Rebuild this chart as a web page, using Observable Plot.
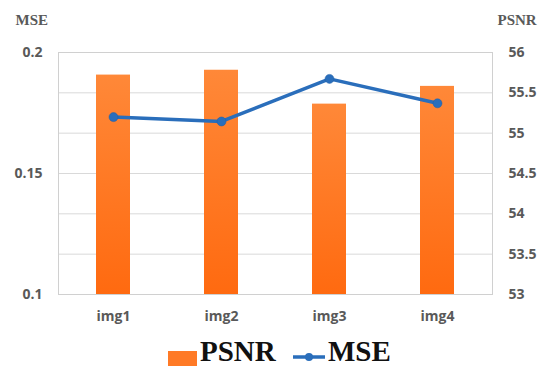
<!DOCTYPE html>
<html><head><meta charset="utf-8">
<script src="https://cdn.jsdelivr.net/npm/d3@7"></script>
<script src="https://cdn.jsdelivr.net/npm/@observablehq/plot@0.6"></script>
<style>
body{margin:0;background:#fff;}
#wrap{width:550px;height:376px;position:relative;overflow:hidden;}
#legend{position:absolute;left:0;top:330px;width:550px;height:46px;font-family:"Liberation Serif","Times New Roman",serif;font-weight:bold;font-size:29px;color:#111;}
.sw{position:absolute;}
</style>
</head><body>
<div id="wrap"><div id="chart"></div>
<div id="legend">
  <div class="sw" style="left:168px;top:21px;width:29px;height:15px;background:#ff7a26"></div>
  <div class="sw" style="left:200px;top:5px;">PSNR</div>
  <svg class="sw" style="left:291px;top:20px" width="36" height="14"><line x1="2" y1="7" x2="34" y2="7" stroke="#2a6ebb" stroke-width="3.5"/><circle cx="18" cy="7" r="4" fill="#2a6ebb"/></svg>
  <div class="sw" style="left:328px;top:5px;">MSE</div>
</div></div>
<script>
const images = ["img1", "img2", "img3", "img4"];
const psnr = [55.72, 55.78, 55.36, 55.58];
const mse = [0.1733, 0.1715, 0.1891, 0.1790];
const psnrTicks = [53, 53.5, 54, 54.5, 55, 55.5, 56];
const mseTicks = [0.1, 0.15, 0.2];

const toP = m => 53 + (m - 0.1) * 30;
const data = images.map((img, i) => ({img, psnr: psnr[i], mse: mse[i], mp: toP(mse[i])}));

const plot = Plot.plot({
  width: 550, height: 330,
  marginTop: 52, marginBottom: 36, marginLeft: 58, marginRight: 58,
  style: {fontFamily: "'Open Sans', sans-serif", fontSize: "13px", fontWeight: "bold", color: "#595959", background: "#fff"},
  x: {domain: images, paddingInner: 0.687, paddingOuter: 0.3435, label: null},
  y: {domain: [53, 56], label: null},
  marks: [
    Plot.ruleY(psnrTicks, {stroke: "#d9d9d9", strokeWidth: 1}),
    Plot.frame({stroke: "#d0d0d0"}),
    Plot.barY(data, {x: "img", y1: 53, y2: "psnr", fill: "url(#barGrad)"}),
    Plot.line(data, {x: "img", y: "mp", stroke: "#2a6ebb", strokeWidth: 3.5}),
    Plot.dot(data, {x: "img", y: "mp", r: 4.5, fill: "#2a6ebb", stroke: "#1f5fa6", strokeWidth: 0.5}),
    Plot.axisX({tickSize: 0, tickPadding: 17, fill: "#595959", fontSize: 14, fontWeight: "bold"}),
    Plot.axisY(mseTicks.map(toP), {anchor: "left", tickSize: 0, tickPadding: 16, tickFormat: (d, i) => String(mseTicks[i]), label: null, fontSize: 14}),
    Plot.axisY(psnrTicks, {anchor: "right", tickSize: 0, tickPadding: 16, tickFormat: d => String(d), label: null, fontSize: 14}),
    Plot.text(["MSE"], {frameAnchor: "top-left", dx: -43, dy: -38, textAnchor: "start", fontFamily: "'Liberation Serif', serif", fontSize: 15, fontWeight: "bold", fill: "#595959"}),
    Plot.text(["PSNR"], {frameAnchor: "top-right", dx: 5, dy: -38, textAnchor: "start", fontFamily: "'Liberation Serif', serif", fontSize: 15, fontWeight: "bold", fill: "#595959"})
  ]
});

const svg = d3.select(plot);
const defs = svg.insert("defs", ":first-child");
const g = defs.append("linearGradient").attr("id", "barGrad").attr("x1", 0).attr("y1", 0).attr("x2", 0).attr("y2", 1);
g.append("stop").attr("offset", "0%").attr("stop-color", "#ff8838");
g.append("stop").attr("offset", "100%").attr("stop-color", "#ff6a10");
document.getElementById("chart").appendChild(plot);
</script>
</body></html>
